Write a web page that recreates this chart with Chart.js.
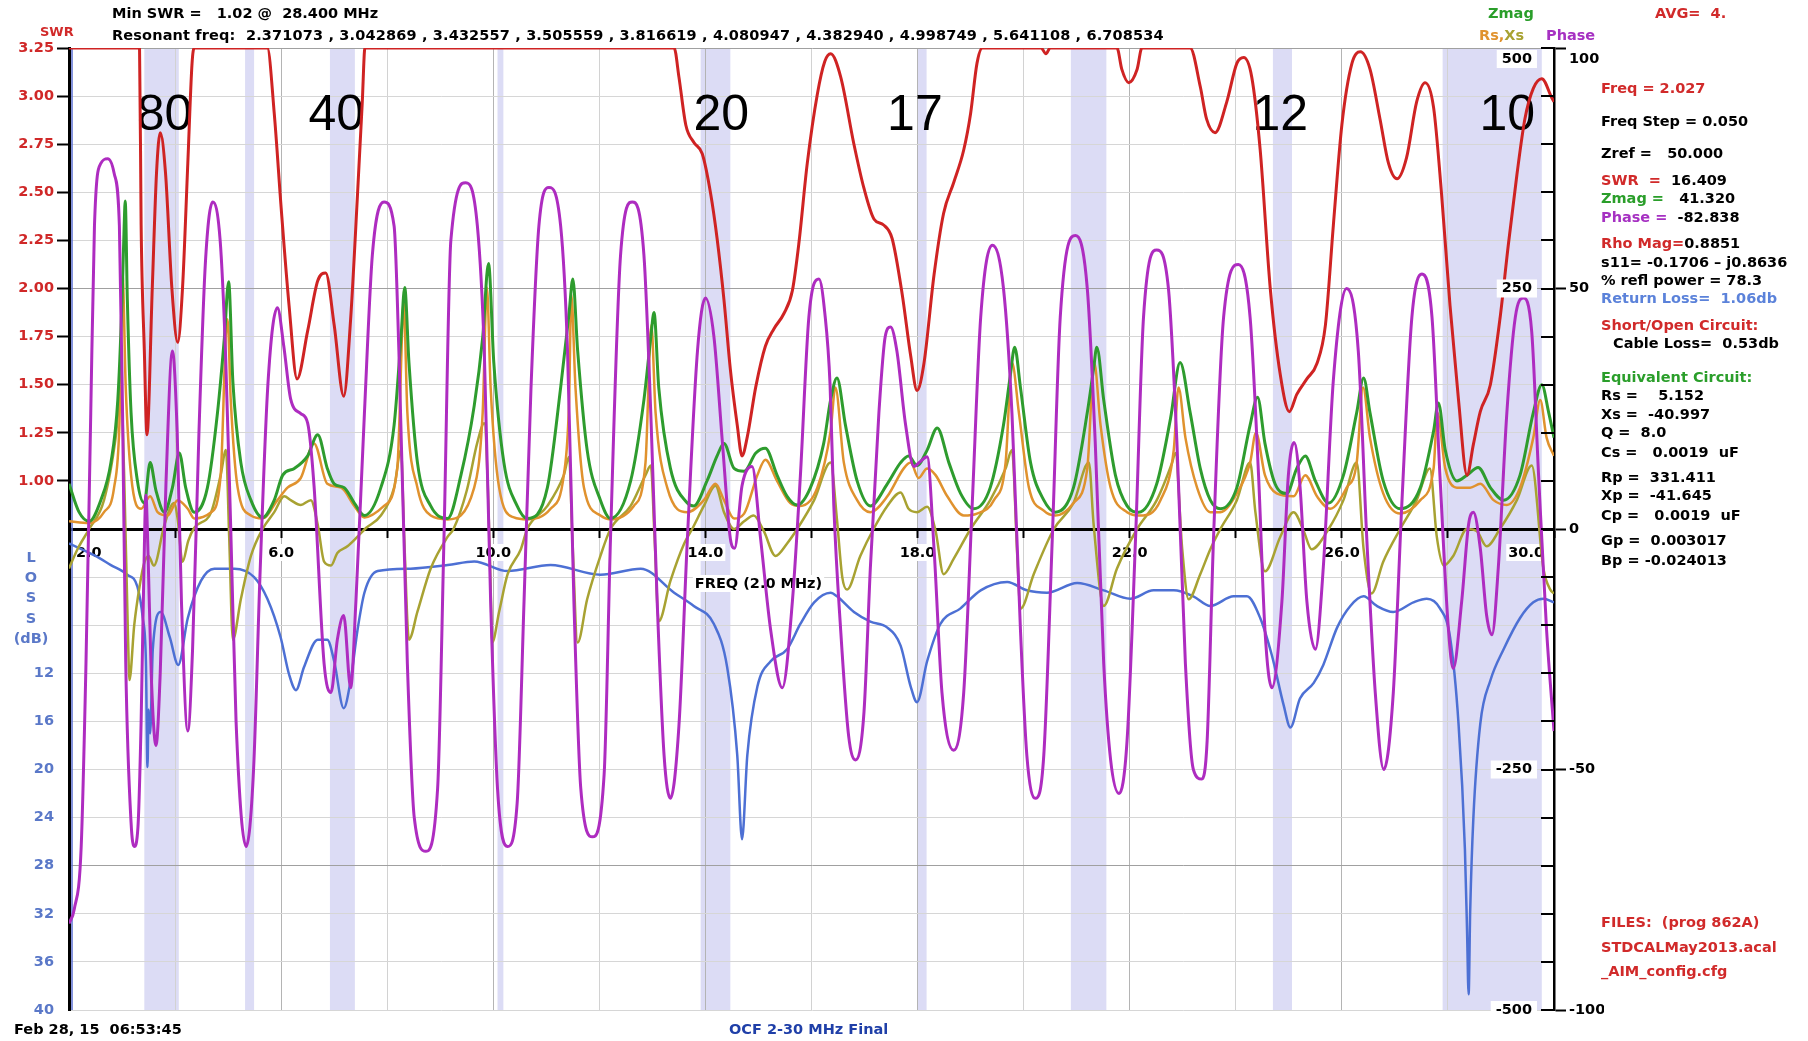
<!DOCTYPE html>
<html>
<head>
<meta charset="utf-8">
<script src="https://cdn.jsdelivr.net/npm/chart.js@4.4.0/dist/chart.umd.min.js"></script>
<style>
html, body { margin: 0; padding: 0; background: #fff; }
#wrap { position: relative; width: 1808px; height: 1041px; overflow: hidden; background: #fff; }
#c { position: absolute; left: 0; top: 0; }
.t { position: absolute; font: bold 14.5px "DejaVu Sans", sans-serif; white-space: pre; line-height: 16px; color: #000; }
.r { color: #d12a2a; }
.g { color: #2a9e2a; }
.m { color: #a631c2; }
.b { color: #5b82da; }
.o { color: #e0922e; }
.y { color: #a8a232; }
</style>
</head>
<body>
<div id="wrap">
<canvas id="c" width="1808" height="1041"></canvas>

<div class="t r" style="left:40px;top:24px;font-size:13px">SWR</div>
<div class="t" style="left:112px;top:5px">Min SWR =   1.02 @  28.400 MHz</div>
<div class="t" style="left:112px;top:27px;letter-spacing:0.15px">Resonant freq:  2.371073 , 3.042869 , 3.432557 , 3.505559 , 3.816619 , 4.080947 , 4.382940 , 4.998749 , 5.641108 , 6.708534</div>
<div class="t g" style="left:1488px;top:5px">Zmag</div>
<div class="t r" style="left:1655px;top:5px">AVG=  4.</div>
<div class="t" style="left:1479px;top:27px"><span class="o">Rs,</span><span class="y">Xs</span></div>
<div class="t m" style="left:1546px;top:27px">Phase</div>

<div class="t r" style="left:1601px;top:80px">Freq = 2.027</div>
<div class="t" style="left:1601px;top:113px">Freq Step = 0.050</div>
<div class="t" style="left:1601px;top:145px">Zref =   50.000</div>
<div class="t" style="left:1601px;top:172px"><span class="r">SWR  =</span>  16.409</div>
<div class="t" style="left:1601px;top:190px"><span class="g">Zmag =</span>   41.320</div>
<div class="t" style="left:1601px;top:209px"><span class="m">Phase =</span>  -82.838</div>
<div class="t" style="left:1601px;top:235px"><span class="r">Rho Mag=</span>0.8851</div>
<div class="t" style="left:1601px;top:254px">s11= -0.1706 – j0.8636</div>
<div class="t" style="left:1601px;top:272px">% refl power = 78.3</div>
<div class="t b" style="left:1601px;top:290px">Return Loss=  1.06db</div>
<div class="t r" style="left:1601px;top:317px">Short/Open Circuit:</div>
<div class="t" style="left:1613px;top:335px">Cable Loss=  0.53db</div>
<div class="t g" style="left:1601px;top:369px">Equivalent Circuit:</div>
<div class="t" style="left:1601px;top:387px">Rs =    5.152</div>
<div class="t" style="left:1601px;top:406px">Xs =  -40.997</div>
<div class="t" style="left:1601px;top:424px">Q =  8.0</div>
<div class="t" style="left:1601px;top:444px">Cs =   0.0019  uF</div>
<div class="t" style="left:1601px;top:469px">Rp =  331.411</div>
<div class="t" style="left:1601px;top:487px">Xp =  -41.645</div>
<div class="t" style="left:1601px;top:507px">Cp =   0.0019  uF</div>
<div class="t" style="left:1601px;top:532px">Gp =  0.003017</div>
<div class="t" style="left:1601px;top:552px">Bp = -0.024013</div>
<div class="t r" style="left:1601px;top:914px">FILES:  (prog 862A)</div>
<div class="t r" style="left:1601px;top:939px">STDCALMay2013.acal</div>
<div class="t r" style="left:1601px;top:963px">_AIM_config.cfg</div>

<div class="t" style="left:14px;top:1021px">Feb 28, 15  06:53:45</div>
<div class="t" style="left:729px;top:1021px;color:#1f3fa8">OCF 2-30 MHz Final</div>
</div>

<script>
// colours
const RED = '#cf2323', GREEN = '#2e9c2e', ORANGE = '#e0922e', OLIVE = '#a8a232', MAGENTA = '#ae2cc0', BLUE = '#4d70d4';
const LBLUE = '#5a78c8';
const FONT = '"DejaVu Sans", sans-serif';

// tick labels
const swrTicks = [3.25, 3.00, 2.75, 2.50, 2.25, 2.00, 1.75, 1.50, 1.25, 1.00];
const lossTicks = [12, 16, 20, 24, 28, 32, 36, 40];
const phaseTicks = [100, 50, 0, -50, -100];
const zLabelValues = [500, 250, -250, -500];
const zLabelText = ['500', '250', '-250', '-500'];
const freqTickValues = [2, 6, 10, 14, 18, 22, 26, 30];
const freqTickLabels = ['2.0', '6.0', '10.0', '14.0', '18.0', '22.0', '26.0', '30.0'];

// ham bands (MHz) and their labels
const bandLow = [3.42, 5.32, 6.92, 10.08, 13.91, 18.0, 20.89, 24.7, 27.9];
const bandHigh = [4.07, 5.49, 7.39, 10.19, 14.47, 18.17, 21.56, 25.06, 29.77];
const bandLabelFreq = [3.8, 7.04, 14.3, 17.95, 24.84, 29.12];
const bandLabelText = ['80', '40', '20', '17', '12', '10'];

// [MHz, SWR]
const swrPoints = [[2.0,3.25],[3.33,3.25],[3.36,2.33],[3.42,1.68],[3.47,1.24],[3.57,2.0],[3.65,2.6],[3.72,2.81],[3.82,2.6],[3.94,2.0],
  [4.05,1.72],[4.14,2.0],[4.24,2.65],[4.32,3.17],[4.36,3.25],[5.74,3.25],[5.87,2.91],[6.0,2.42],[6.15,1.91],[6.3,1.53],
  [6.5,1.78],[6.69,2.04],[6.84,2.08],[7.0,1.81],[7.18,1.44],[7.31,1.84],[7.44,2.49],[7.53,2.97],[7.58,3.25],[13.41,3.25],
  [13.5,3.10],[13.63,2.85],[13.78,2.76],[13.94,2.70],[14.1,2.49],[14.22,2.26],[14.35,1.94],[14.47,1.58],[14.6,1.29],[14.69,1.13],
  [14.79,1.23],[14.95,1.49],[15.13,1.70],[15.29,1.79],[15.48,1.87],[15.64,1.99],[15.76,2.23],[15.92,2.65],[16.11,3.01],[16.25,3.18],
  [16.36,3.22],[16.55,3.10],[16.8,2.75],[16.99,2.52],[17.18,2.36],[17.36,2.33],[17.52,2.26],[17.71,1.97],[17.87,1.65],[17.99,1.47],
  [18.12,1.61],[18.31,2.07],[18.49,2.39],[18.68,2.55],[18.87,2.72],[19.0,2.91],[19.12,3.17],[19.22,3.25],[20.33,3.25],[20.42,3.22],
  [20.5,3.25],[21.76,3.25],[21.85,3.14],[21.98,3.07],[22.14,3.14],[22.23,3.25],[23.14,3.25],[23.33,3.05],[23.45,2.88],[23.61,2.81],
  [23.83,2.97],[24.02,3.17],[24.15,3.2],[24.3,3.10],[24.46,2.72],[24.65,2.0],[24.84,1.55],[25.01,1.36],[25.15,1.45],[25.34,1.53],
  [25.53,1.61],[25.69,1.81],[25.84,2.33],[26.0,2.85],[26.19,3.17],[26.35,3.23],[26.53,3.14],[26.72,2.88],[26.88,2.65],[27.04,2.57],
  [27.22,2.68],[27.41,2.97],[27.57,3.07],[27.73,2.94],[27.88,2.49],[28.04,1.91],[28.2,1.42],[28.36,1.03],[28.48,1.19],[28.61,1.36],
  [28.8,1.5],[28.98,1.84],[29.14,2.23],[29.3,2.59],[29.45,2.88],[29.61,3.04],[29.77,3.09],[29.96,2.99],[30.0,2.97]];

// [MHz, phase deg]
const phasePoints = [[2.0,-82],[2.1,-79],[2.23,-66],[2.32,-28],[2.41,24],[2.48,63],[2.6,76],[2.73,77],[2.85,74],[2.95,63],
  [3.01,24],[3.07,-28],[3.17,-61],[3.23,-66],[3.3,-62],[3.36,-40],[3.41,-10],[3.45,7],[3.49,-5],[3.55,-30],
  [3.64,-45],[3.72,-30],[3.83,10],[3.95,37],[4.04,20],[4.12,-15],[4.24,-42],[4.33,-25],[4.45,20],[4.57,55],
  [4.71,68],[4.85,60],[4.95,37],[5.05,0],[5.15,-40],[5.34,-66],[5.48,-50],[5.6,-10],[5.75,30],[5.93,46],
  [6.05,38],[6.18,27],[6.37,24],[6.5,22],[6.62,9],[6.81,-28],[6.94,-34],[7.06,-23],[7.18,-18],[7.31,-33],
  [7.41,-15],[7.57,24],[7.72,57],[7.94,68],[8.13,63],[8.22,37],[8.38,-28],[8.51,-60],[8.73,-67],[8.95,-54],
  [9.07,-2],[9.2,60],[9.48,72],[9.7,63],[9.83,37],[9.95,-15],[10.08,-54],[10.27,-66],[10.45,-57],[10.58,-15],
  [10.71,29],[10.86,63],[11.05,71],[11.27,63],[11.4,37],[11.52,-15],[11.65,-54],[11.87,-64],[12.09,-51],[12.21,-2],
  [12.4,57],[12.62,68],[12.84,57],[12.97,24],[13.09,-15],[13.22,-47],[13.34,-56],[13.5,-41],[13.66,-2],[13.85,37],
  [14.0,48],[14.16,40],[14.32,18],[14.47,-2],[14.55,-4],[14.69,9],[14.88,13],[15.04,-2],[15.23,-21],[15.45,-33],
  [15.64,-15],[15.79,11],[15.95,44],[16.14,52],[16.25,45],[16.35,30],[16.42,5],[16.55,-21],[16.7,-43],[16.83,-48],
  [16.99,-38],[17.11,-8],[17.27,24],[17.39,40],[17.49,42],[17.61,37],[17.77,22],[17.93,13],[18.05,14],[18.18,15],
  [18.31,-4],[18.46,-34],[18.68,-46],[18.87,-34],[19.03,5],[19.19,44],[19.41,59],[19.62,50],[19.78,24],[19.94,-21],
  [20.06,-47],[20.22,-56],[20.38,-47],[20.54,-2],[20.69,44],[20.98,61],[21.2,50],[21.35,18],[21.51,-28],[21.64,-48],
  [21.8,-55],[21.95,-44],[22.11,-2],[22.26,44],[22.51,58],[22.73,50],[22.89,18],[23.05,-28],[23.2,-50],[23.36,-52],
  [23.46,-44],[23.58,-2],[23.77,44],[24.05,55],[24.27,44],[24.43,11],[24.55,-21],[24.68,-33],[24.87,-15],[24.99,11],
  [25.1,18],[25.21,9],[25.34,-15],[25.5,-25],[25.65,-8],[25.84,31],[26.09,50],[26.31,37],[26.47,-2],[26.63,-34],
  [26.79,-50],[26.97,-34],[27.13,5],[27.32,44],[27.51,53],[27.7,44],[27.85,11],[28.01,-21],[28.1,-29],[28.26,-15],
  [28.39,1],[28.48,3.5],[28.61,-4],[28.73,-18],[28.83,-22],[28.95,-8],[29.11,24],[29.27,44],[29.42,48],[29.58,41],
  [29.71,11],[29.86,-21],[30.0,-42]];

// [MHz, |Z| ohm]
const zmagPoints = [[2.0,47],[2.19,17.5],[2.38,8],[2.6,30],[2.79,69],[2.92,134],[3.0,238],[3.04,315],[3.06,341],[3.1,238],
  [3.17,121],[3.29,50],[3.42,27],[3.53,69],[3.64,40],[3.8,17.5],[3.95,43],[4.08,79],[4.2,43],[4.36,17.5],
  [4.61,43],[4.8,121],[4.93,199],[5.01,257],[5.09,153],[5.24,69],[5.43,30],[5.65,12],[5.87,30],[6.03,56],
  [6.25,63],[6.5,76],[6.69,98],[6.87,63],[7.0,47],[7.19,43],[7.38,27],[7.57,14],[7.88,43],[8.13,108],
  [8.26,199],[8.33,251],[8.41,173],[8.57,69],[8.82,24],[9.14,11],[9.39,56],[9.64,128],[9.8,199],[9.91,276],
  [10.01,173],[10.2,69],[10.45,24],[10.64,11],[11.02,43],[11.27,147],[11.43,225],[11.5,260],[11.59,186],[11.77,82],
  [12.02,30],[12.21,11],[12.59,50],[12.84,134],[12.97,199],[13.03,225],[13.12,147],[13.34,63],[13.66,27],[13.78,24],
  [14.03,50],[14.22,76],[14.35,89],[14.54,63],[14.73,60],[14.95,79],[15.13,84],[15.35,56],[15.54,34],[15.73,25],
  [15.98,43],[16.23,89],[16.36,134],[16.48,157],[16.64,108],[16.86,50],[17.11,24],[17.43,47],[17.68,69],[17.83,76],
  [17.99,66],[18.18,82],[18.37,105],[18.59,69],[18.81,37],[19.06,21],[19.37,43],[19.62,108],[19.75,160],[19.83,189],
  [19.94,147],[20.13,69],[20.38,30],[20.6,17.5],[20.94,43],[21.2,121],[21.32,167],[21.38,189],[21.51,134],[21.73,56],
  [21.95,24],[22.17,17.5],[22.51,47],[22.77,115],[22.95,173],[23.14,121],[23.33,63],[23.52,30],[23.71,21],[24.02,43],
  [24.27,108],[24.41,137],[24.55,89],[24.74,47],[24.96,37],[25.15,63],[25.31,76],[25.5,50],[25.75,27],[26.03,56],
  [26.28,121],[26.41,157],[26.53,121],[26.78,50],[27.1,21],[27.48,43],[27.73,102],[27.82,131],[27.95,82],[28.17,50],
  [28.36,56],[28.57,64],[28.8,43],[29.05,30],[29.36,56],[29.61,121],[29.77,150],[29.9,121],[30.0,95]];

// [MHz, Rs ohm]
const rsPoints = [[2.0,8],[2.38,6],[2.66,17.5],[2.85,43],[2.95,108],[3.01,264],[3.07,147],[3.17,56],[3.36,21],[3.53,34],
  [3.67,17.5],[3.86,14],[4.05,30],[4.24,21],[4.36,11],[4.68,17.5],[4.86,56],[4.96,205],[4.99,218],[5.05,134],
  [5.18,43],[5.43,14],[5.65,11],[5.93,30],[6.12,43],[6.37,53],[6.62,89],[6.87,47],[7.13,43],[7.38,24],
  [7.57,12],[7.94,24],[8.19,63],[8.29,218],[8.31,238],[8.38,121],[8.57,43],[8.82,14],[9.14,10],[9.64,43],
  [9.8,121],[9.88,251],[9.95,147],[10.11,43],[10.39,12],[10.64,10],[11.08,21],[11.33,56],[11.43,134],[11.47,244],
  [11.55,147],[11.71,43],[12.02,14],[12.21,10],[12.65,24],[12.87,69],[12.98,212],[13.06,121],[13.28,43],[13.66,17.5],
  [13.97,30],[14.19,47],[14.35,30],[14.54,11],[14.73,16],[14.98,56],[15.13,72],[15.35,50],[15.6,27],[15.79,24],
  [16.11,43],[16.36,102],[16.45,147],[16.61,69],[16.86,30],[17.11,17.5],[17.43,34],[17.74,63],[17.87,69],[18.02,53],
  [18.18,63],[18.34,56],[18.56,34],[18.87,14],[19.12,16],[19.44,30],[19.66,69],[19.78,173],[19.91,121],[20.1,43],
  [20.38,19],[20.6,14],[20.94,27],[21.2,63],[21.33,173],[21.45,108],[21.64,43],[21.95,17.5],[22.2,14],[22.58,30],
  [22.83,82],[22.92,147],[23.05,95],[23.27,43],[23.52,17.5],[23.71,17.5],[24.02,37],[24.27,69],[24.38,100],[24.55,56],
  [24.77,37],[25.09,34],[25.31,56],[25.53,34],[25.78,21],[26.09,43],[26.28,69],[26.4,147],[26.53,95],[26.78,37],
  [27.1,16],[27.48,30],[27.73,63],[27.8,121],[27.95,63],[28.17,43],[28.42,43],[28.61,47],[28.86,30],[29.11,25],
  [29.36,43],[29.61,95],[29.74,134],[29.86,95],[30.0,76]];

// [MHz, Xs ohm]
const xsPoints = [[2.0,-41],[2.16,-21],[2.38,0],[2.66,30],[2.88,95],[2.98,147],[3.04,56],[3.11,-106],[3.14,-157],[3.23,-100],
  [3.33,-60],[3.42,-35],[3.5,-28],[3.6,-38],[3.8,4.5],[3.98,27],[4.05,10],[4.14,-34],[4.25,-12],[4.36,1],
  [4.68,17.5],[4.86,56],[4.96,82],[5.02,-8],[5.09,-115],[5.24,-73],[5.43,-28],[5.65,0],[5.87,17.5],[6.06,34],
  [6.18,30],[6.37,25],[6.56,30],[6.69,4.5],[6.81,-34],[6.94,-38],[7.06,-25],[7.25,-18],[7.44,-8],[7.6,1],
  [7.88,14],[8.13,43],[8.26,82],[8.32,-8],[8.41,-115],[8.57,-86],[8.82,-41],[9.14,-8],[9.25,0],[9.5,40],
  [9.7,90],[9.83,110],[9.9,40],[9.95,-60],[9.98,-118],[10.11,-86],[10.27,-47],[10.52,-21],[10.64,0],[11.02,24],
  [11.33,56],[11.43,75],[11.49,-8],[11.59,-118],[11.77,-73],[12.02,-28],[12.21,0],[12.59,24],[12.87,56],[12.97,66],
  [13.04,-8],[13.12,-96],[13.34,-54],[13.6,-15],[13.75,0],[13.97,24],[14.19,45],[14.35,17.5],[14.54,0],[14.73,8],
  [14.91,14],[15.1,-2],[15.32,-28],[15.54,-15],[15.73,0],[16.05,30],[16.36,69],[16.48,10],[16.58,-50],[16.67,-63],
  [16.92,-28],[17.17,0],[17.43,24],[17.68,38],[17.83,21],[17.99,17.5],[18.18,23],[18.34,-2],[18.49,-47],[18.68,-31],
  [19.0,0],[19.37,30],[19.66,63],[19.78,82],[19.88,-28],[19.94,-83],[20.19,-47],[20.57,0],[20.94,27],[21.23,69],
  [21.32,4.5],[21.51,-80],[21.76,-41],[22.14,0],[22.51,30],[22.8,69],[22.86,79],[22.99,-21],[23.11,-73],[23.33,-47],
  [23.52,-21],[23.71,0],[24.02,30],[24.27,69],[24.37,17.5],[24.55,-44],[24.84,-8],[25.09,17.5],[25.28,-2],[25.43,-21],
  [25.75,0],[26.03,30],[26.28,69],[26.41,-21],[26.56,-67],[26.78,-34],[27.1,0],[27.41,30],[27.66,63],[27.79,-8],
  [27.92,-38],[28.1,-28],[28.36,0],[28.54,-2],[28.73,-18],[28.98,0],[29.3,30],[29.58,66],[29.8,-41],[29.93,-63],
  [30.0,-67]];

// [MHz, return loss dB]
const lossPoints = [[2.0,1.2],[2.48,2.2],[2.79,3.0],[3.1,3.8],[3.29,4.8],[3.39,7.4],[3.45,11],[3.48,19.8],[3.5,15],[3.53,17],
  [3.58,10],[3.73,6.9],[3.9,9],[4.06,11.3],[4.24,7.4],[4.49,4.3],[4.74,3.3],[5.12,3.3],[5.49,4.0],[5.74,5.8],
  [5.99,9.0],[6.15,12.1],[6.28,13.4],[6.43,11.5],[6.69,9.2],[6.87,9.2],[7.0,11],[7.18,14.9],[7.31,12.6],[7.44,8.4],
  [7.57,5.3],[7.82,3.5],[8.44,3.3],[9.14,3.0],[9.64,2.7],[10.27,3.5],[11.08,3.0],[12.02,3.8],[12.78,3.3],[13.41,5.3],
  [13.78,6.4],[14.16,7.9],[14.41,11.5],[14.6,18.8],[14.69,25.8],[14.79,18.8],[14.98,13.1],[15.23,11],[15.54,10],[15.79,7.9],
  [16.05,6.1],[16.36,5.3],[16.48,5.6],[16.8,6.9],[17.11,7.7],[17.43,8.2],[17.68,9.7],[17.87,13.1],[17.99,14.4],[18.18,11],
  [18.43,7.9],[18.81,6.6],[19.19,5.1],[19.69,4.4],[20.06,5.1],[20.44,5.3],[21.01,4.5],[21.51,5.1],[22.01,5.8],[22.45,5.1],
  [22.83,5.1],[23.2,5.6],[23.52,6.4],[23.96,5.6],[24.21,5.6],[24.46,7.4],[24.68,10.5],[24.9,14.6],[25.03,16.5],[25.21,14.1],
  [25.47,12.8],[25.65,11.3],[25.91,8.2],[26.16,6.4],[26.41,5.6],[26.66,6.4],[26.97,6.9],[27.35,6.1],[27.6,5.8],[27.85,6.6],
  [28.04,9.0],[28.2,16.2],[28.32,26.6],[28.36,33.3],[28.39,38.7],[28.42,31.7],[28.48,24],[28.61,16.2],[28.8,12.6],[29.05,10],
  [29.36,7.4],[29.61,6.1],[29.8,5.8],[30.0,6.1]];

function pts(list) { return list.map(p => ({x: p[0], y: p[1]})); }
function near(a, b) { return Math.abs(a - b) < 1e-6; }

// left axis carries SWR above the zero line and LOSS (dB) below it
function leftLabel(v) {
    if (swrTicks.some(t => near(t, v))) return v.toFixed(2);
    let loss = Math.round((0.75 - v) * 16);
    if (lossTicks.includes(loss) && near(0.75 - loss / 16, v)) return String(loss);
    return '';
}

function gridValues(top, step, n) {
    let out = [];
    for (let k = 0; k <= n; k++) out.push({value: top - step * k});
    return out;
}

const bandPlugin = {
    id: 'bands',
    beforeDraw(chart) {
        const {ctx, chartArea: a} = chart;
        const x = chart.scales.x;
        ctx.save();
        ctx.fillStyle = '#fff';
        ctx.fillRect(0, 0, chart.width, chart.height);
        ctx.fillStyle = '#dcdcf5';
        bandLow.forEach((lo, i) => {
            let x1 = x.getPixelForValue(lo), x2 = x.getPixelForValue(bandHigh[i]);
            ctx.fillRect(x1, a.top, x2 - x1, a.bottom - a.top);
        });
        ctx.restore();
    }
};

const decorPlugin = {
    id: 'decor',
    beforeDatasetsDraw(chart) {
        const {ctx, chartArea: a} = chart;
        const x = chart.scales.x, swr = chart.scales.swr;
        const y0 = swr.getPixelForValue(0.75);
        ctx.save();
        // thin blue line beside the left border
        ctx.strokeStyle = '#5b6fd0';
        ctx.lineWidth = 1.5;
        ctx.beginPath();
        ctx.moveTo(a.left + 3, a.top);
        ctx.lineTo(a.left + 3, a.bottom);
        ctx.stroke();
        // band names
        ctx.font = '50px "Liberation Sans", Arial, sans-serif';
        ctx.fillStyle = '#000';
        ctx.textAlign = 'center';
        ctx.textBaseline = 'middle';
        bandLabelFreq.forEach((f, i) => {
            ctx.fillText(bandLabelText[i], x.getPixelForValue(f), a.top + 68);
        });
        // frequency labels under the zero line
        ctx.font = 'bold 14.5px ' + FONT;
        freqTickValues.forEach((f, i) => {
            let px = x.getPixelForValue(f);
            let txt = freqTickLabels[i];
            let w = ctx.measureText(txt).width;
            let left;
            if (i === 0) left = px + 7;
            else if (i === freqTickValues.length - 1) left = px - 10 - w;
            else left = px - w / 2;
            ctx.fillStyle = '#fff';
            ctx.fillRect(left - 2, y0 + 15, w + 4, 17);
            ctx.fillStyle = '#000';
            ctx.textAlign = 'left';
            ctx.fillText(txt, left, y0 + 24);
        });
        let ft = 'FREQ (2.0 MHz)';
        let fx = x.getPixelForValue(13.8);
        let fw = ctx.measureText(ft).width;
        ctx.fillStyle = '#fff';
        ctx.fillRect(fx - 2, y0 + 46, fw + 4, 17);
        ctx.fillStyle = '#000';
        ctx.fillText(ft, fx, y0 + 55);
        ctx.restore();
    },
    afterDraw(chart) {
        const {ctx, chartArea: a} = chart;
        const z = chart.scales.z, ph = chart.scales.phase, swr = chart.scales.swr;
        ctx.save();
        // inward ticks on the right axis
        ctx.strokeStyle = '#000';
        ctx.lineWidth = 2;
        for (let v = -100; v <= 100; v += 10) {
            let y = Math.round(ph.getPixelForValue(v));
            ctx.beginPath();
            ctx.moveTo(a.right - 13, y);
            ctx.lineTo(a.right, y);
            ctx.stroke();
        }
        // top phase label sits just under the top edge
        ctx.font = 'bold 14.5px ' + FONT;
        ctx.textAlign = 'left';
        ctx.textBaseline = 'middle';
        ctx.fillStyle = '#000';
        ctx.fillText(String(phaseTicks[0]), ph.left + 15, ph.getPixelForValue(phaseTicks[0]) + 11);
        // Zmag scale labels inside the plot
        ctx.textAlign = 'right';
        let xr = a.right - 22;
        zLabelValues.forEach((v, i) => {
            let y = z.getPixelForValue(v);
            if (v === 500) y += 11;
            let w = ctx.measureText(zLabelText[i]).width;
            ctx.fillStyle = '#fff';
            ctx.fillRect(xr - w - 5, y - 9, w + 10, 18);
            ctx.fillStyle = '#000';
            ctx.fillText(zLabelText[i], xr, y);
        });
        // vertical LOSS caption
        ctx.fillStyle = LBLUE;
        ctx.textAlign = 'center';
        let y0 = swr.getPixelForValue(0.75);
        const letters = ['L', 'O', 'S', 'S', '(dB)'];
        letters.forEach((s, i) => ctx.fillText(s, 31, y0 + 29 + i * 20.3));
        ctx.restore();
    }
};

const common = {pointRadius: 0, fill: false, cubicInterpolationMode: 'monotone'};

new Chart(document.getElementById('c'), {
    type: 'line',
    data: {
        datasets: [
            Object.assign({label: 'SWR', data: pts(swrPoints), yAxisID: 'swr', borderColor: RED, borderWidth: 3}, common),
            Object.assign({label: 'Phase', data: pts(phasePoints), yAxisID: 'phase', borderColor: MAGENTA, borderWidth: 3}, common),
            Object.assign({label: 'Zmag', data: pts(zmagPoints), yAxisID: 'z', borderColor: GREEN, borderWidth: 3}, common),
            Object.assign({label: 'Rs', data: pts(rsPoints), yAxisID: 'z', borderColor: ORANGE, borderWidth: 2.5}, common),
            Object.assign({label: 'Xs', data: pts(xsPoints), yAxisID: 'z', borderColor: OLIVE, borderWidth: 2.5}, common),
            Object.assign({label: 'Return loss', data: pts(lossPoints), yAxisID: 'loss', borderColor: BLUE, borderWidth: 2.5}, common)
        ]
    },
    options: {
        responsive: false,
        devicePixelRatio: 1,
        animation: false,
        events: [],
        layout: {padding: {left: 0, top: 48, right: 204, bottom: 31}},
        plugins: {legend: {display: false}, tooltip: {enabled: false}},
        scales: {
            x: {
                type: 'linear', min: 2, max: 30,
                position: {swr: 0.75},
                afterBuildTicks: s => { s.ticks = gridValues(30, 2, 14).reverse(); },
                ticks: {display: false},
                grid: {
                    color: c => (c.tick && Math.round(c.tick.value - 2) % 4 === 0) ? '#b4b4b4' : '#d2d2d2',
                    lineWidth: 1, tickLength: 7, tickWidth: 2, tickColor: '#000'
                },
                border: {color: '#000', width: 3}
            },
            swr: {
                type: 'linear', position: 'left', min: -1.75, max: 3.25,
                afterBuildTicks: s => { s.ticks = gridValues(3.25, 0.25, 20); },
                afterFit: s => { s.width = 69; },
                ticks: {
                    autoSkip: false, padding: 3,
                    font: {family: FONT, size: 14.5, weight: 'bold'},
                    color: c => (c.tick && c.tick.value > 0.8) ? '#d02828' : LBLUE,
                    callback: v => leftLabel(v)
                },
                grid: {
                    color: c => {
                        let v = c.tick ? c.tick.value : 0;
                        if (near(v, 0.75)) return '#000';
                        if (near(v, 2) || near(v, -1) || near(v, 3.25)) return '#a0a0a0';
                        return '#d6d6d6';
                    },
                    lineWidth: c => (c.tick && near(c.tick.value, 0.75)) ? 3 : 1,
                    tickLength: 12, tickWidth: 2,
                    tickColor: c => (c.tick && c.tick.value > 0.8) ? '#000' : 'rgba(0,0,0,0)'
                },
                border: {color: '#000', width: 3}
            },
            phase: {
                type: 'linear', position: 'right', min: -100, max: 100,
                afterBuildTicks: s => { s.ticks = gridValues(100, 10, 20); },
                afterFit: s => { s.width = 50; },
                ticks: {
                    autoSkip: false, padding: 3, color: '#000',
                    font: {family: FONT, size: 14.5, weight: 'bold'},
                    // the top label is drawn by the decor plugin, a little lower
                    callback: v => (phaseTicks.some(t => near(t, v)) && !near(v, phaseTicks[0])) ? String(Math.round(v)) : ''
                },
                grid: {
                    drawOnChartArea: false, tickLength: 12, tickWidth: 2,
                    tickColor: c => (c.tick && phaseTicks.some(t => near(t, c.tick.value))) ? '#000' : 'rgba(0,0,0,0)'
                },
                border: {color: '#000', width: 2.5}
            },
            z: {type: 'linear', position: 'right', display: false, min: -500, max: 500},
            loss: {type: 'linear', position: 'left', display: false, min: -40, max: 40, reverse: true}
        }
    },
    plugins: [bandPlugin, decorPlugin]
});
</script>
</body>
</html>
